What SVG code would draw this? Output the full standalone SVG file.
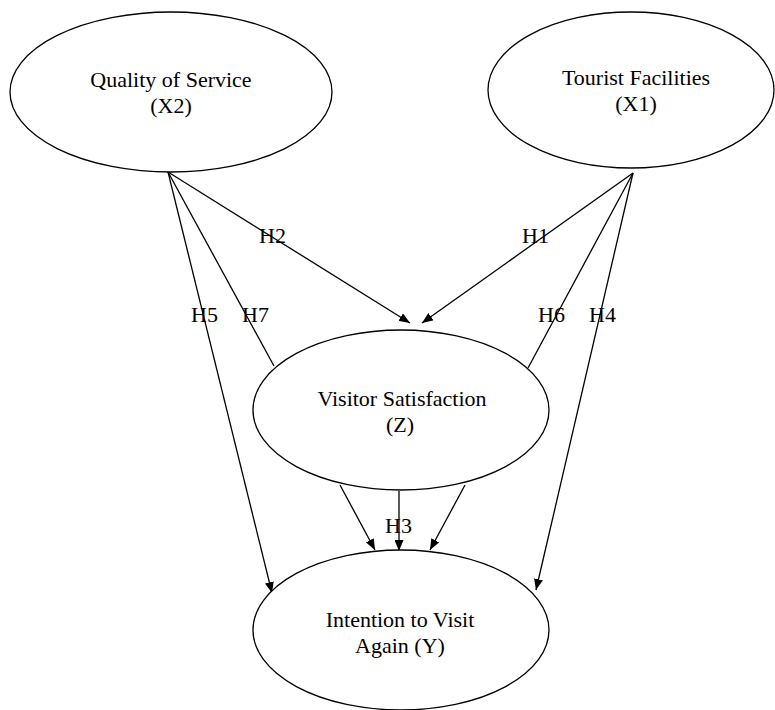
<svg xmlns="http://www.w3.org/2000/svg" width="775" height="710" viewBox="0 0 775 710">
<defs>
<style>
.node ellipse{fill:#fff;stroke:#000;stroke-width:1.3}
text{font-family:"Liberation Serif","Times New Roman",serif;font-size:22px;fill:#000}
.c{text-anchor:middle}
#connectors line{stroke:#000;stroke-width:1.3;fill:none}
</style>
<marker id="arr" markerUnits="userSpaceOnUse" markerWidth="11" markerHeight="9" refX="11" refY="4.5" orient="auto">
<path d="M0,0 L11,4.5 L0,9 z" fill="#000"/>
</marker>
</defs>
<rect width="775" height="710" fill="#fff"/>
<g id="connectors">
<line x1="168" y1="172" x2="410" y2="323" marker-end="url(#arr)"/>
<line x1="168" y1="172" x2="274" y2="366"/>
<line x1="168" y1="172" x2="272" y2="593" marker-end="url(#arr)"/>
<line x1="633" y1="173" x2="422" y2="323" marker-end="url(#arr)"/>
<line x1="633" y1="173" x2="528" y2="368"/>
<line x1="633" y1="173" x2="536" y2="590" marker-end="url(#arr)"/>
<line x1="340" y1="485" x2="375" y2="550" marker-end="url(#arr)"/>
<line x1="399" y1="491" x2="399" y2="551" marker-end="url(#arr)"/>
<line x1="465" y1="485" x2="430" y2="550" marker-end="url(#arr)"/>
<text x="259" y="243">H2</text>
<text x="191" y="322">H5</text>
<text x="242" y="322">H7</text>
<text x="522" y="243">H1</text>
<text x="538" y="322">H6</text>
<text x="589" y="322">H4</text>
<text x="385" y="533">H3</text>
</g>
<g id="x2" class="node">
<ellipse cx="171" cy="92" rx="161" ry="80"/>
<text class="c" x="171" y="87">Quality of Service</text>
<text class="c" x="171" y="113">(X2)</text>
</g>
<g id="x1" class="node">
<ellipse cx="631" cy="90" rx="143" ry="78"/>
<text class="c" x="636" y="85">Tourist Facilities</text>
<text class="c" x="636" y="111">(X1)</text>
</g>
<g id="z" class="node">
<ellipse cx="401" cy="410" rx="148" ry="80"/>
<text class="c" x="402" y="406">Visitor Satisfaction</text>
<text class="c" x="400" y="432">(Z)</text>
</g>
<g id="y" class="node">
<ellipse cx="401" cy="630" rx="148" ry="80"/>
<text class="c" x="400" y="627">Intention to Visit</text>
<text class="c" x="400" y="653">Again (Y)</text>
</g>
</svg>
